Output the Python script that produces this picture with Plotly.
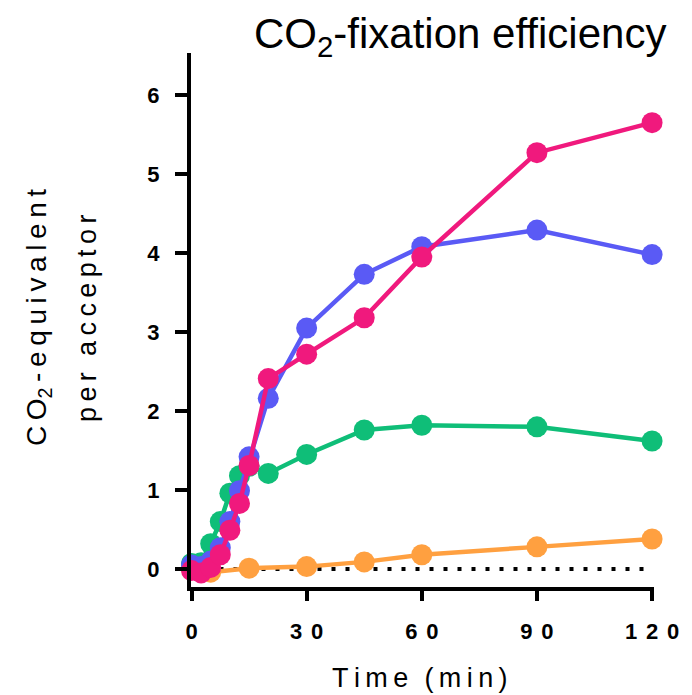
import plotly.graph_objects as go

# ---- data ----
times = [0, 2.5, 5, 7.5, 10, 12.5, 15, 20, 30, 45, 60, 90, 120]
pink = [-0.02, -0.05, 0.02, 0.18, 0.49, 0.83, 1.31, 2.41, 2.72, 3.18, 3.95, 5.27, 5.65]
blue = [0.05, 0.03, 0.10, 0.27, 0.60, 0.99, 1.42, 2.16, 3.05, 3.73, 4.08, 4.29, 3.98]
green = [0.07, 0.08, 0.32, 0.60, 0.96, 1.18, 1.30, 1.21, 1.45, 1.76, 1.82, 1.80, 1.62]
orange_times = [0, 5, 15, 30, 45, 60, 90, 120]
orange = [0.00, -0.04, 0.01, 0.03, 0.09, 0.18, 0.28, 0.38]

x_tickvals = [0, 30, 60, 90, 120]
x_ticktext = ["0", "30", "60", "90", "120"]
y_tickvals = [0, 1, 2, 3, 4, 5, 6]

colors = {"orange": "#FFA040", "green": "#0FBE78", "blue": "#5A5AF5", "pink": "#F0197D"}

TS = "\u2009"  # thin space for letter spacing


def spaced(s, sep=TS):
    return sep.join(list(s))


fig = go.Figure()

series = [
    ("orange", orange_times, orange),
    ("green", times, green),
    ("blue", times, blue),
    ("pink", times, pink),
]
for name, xs, ys in series:
    fig.add_trace(go.Scatter(
        x=xs, y=ys, mode="lines+markers", name=name,
        line=dict(color=colors[name], width=4.5),
        marker=dict(color=colors[name], size=21),
        cliponaxis=False, showlegend=False,
    ))

# dotted baseline at y = 0
fig.add_shape(type="line", xref="x", yref="y", x0=0, x1=119, y0=0, y1=0,
              line=dict(color="black", width=4, dash="4px,10px"), layer="below")

font_family = "Liberation Sans, Arial, sans-serif"

# page has an 8px body margin: compensate so the plot lands where the reference has it
FIG_W, FIG_H = 684, 687
fig.update_layout(
    width=FIG_W, height=FIG_H,
    margin=dict(l=183, r=38, t=45, b=108),
    paper_bgcolor="white", plot_bgcolor="white",
    font=dict(family=font_family, color="black"),
    xaxis=dict(
        range=[-0.13, 120.5], showgrid=False, zeroline=False,
        showline=True, linecolor="black", linewidth=4,
        ticks="outside", ticklen=10, tickwidth=4, tickcolor="black",
        tickvals=x_tickvals, ticktext=[spaced(t, TS + TS) for t in x_ticktext],
        tickfont=dict(size=22, family=font_family, weight="bold"),
        ticklabelstandoff=12,
    ),
    yaxis=dict(
        range=[-0.228, 6.532], showgrid=False, zeroline=False,
        showline=True, linecolor="black", linewidth=4,
        ticks="outside", ticklen=12, tickwidth=4, tickcolor="black",
        tickvals=y_tickvals,
        tickfont=dict(size=22, family=font_family, weight="bold"),
        ticklabelstandoff=11,
    ),
)

W = 463
H = 534


def px_x(p):
    return (p - 191) / W


def px_y(p):
    return (587 - p) / H


annotations = [
    dict(text="CO<sub>2</sub>-fixation efficiency", xref="paper", yref="paper",
         x=px_x(668), y=px_y(8), xanchor="right", yanchor="top", showarrow=False,
         font=dict(size=42, family=font_family, color="black")),
    dict(text=spaced("Time") + TS + TS + TS + spaced("(min)"), xref="paper", yref="paper",
         x=px_x(420), y=px_y(678), xanchor="center", yanchor="middle", showarrow=False,
         font=dict(size=27, family=font_family, color="black")),
    dict(text=TS.join(["C", "O<sub>2</sub>", "-", "e", "q", "u", "i", "v", "a", "l", "e", "n", "t"]),
         xref="paper", yref="paper", textangle=-90,
         x=px_x(38), y=px_y(318), xanchor="center", yanchor="middle", showarrow=False,
         font=dict(size=28, family=font_family, color="black")),
    dict(text=spaced("per") + TS + TS + TS + spaced("acceptor"),
         xref="paper", yref="paper", textangle=-90,
         x=px_x(87), y=px_y(319), xanchor="center", yanchor="middle", showarrow=False,
         font=dict(size=27, family=font_family, color="black")),
]
fig.update_layout(annotations=annotations)

fig.write_html("out.html")
